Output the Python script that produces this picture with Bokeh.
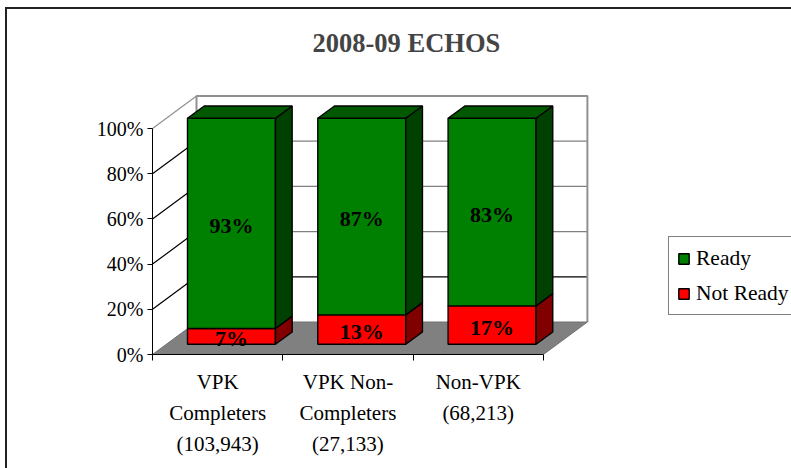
from bokeh.plotting import figure
from bokeh.models import Range1d, FixedTicker, Legend, LegendItem
from bokeh.core.properties import value
from bokeh.embed import file_html
from bokeh.resources import INLINE

# ---------------- data ----------------
categories = ["VPK\nCompleters\n(103,943)", "VPK Non-\nCompleters\n(27,133)", "Non-VPK\n(68,213)"]
ready = [93, 87, 83]
not_ready = [7, 13, 17]
series_names = ["Ready", "Not Ready"]
y_ticks = [0, 20, 40, 60, 80, 100]
y_tick_labels = ["0%", "20%", "40%", "60%", "80%", "100%"]
title_text = "2008-09 ECHOS"

# ---------------- layout / style ----------------
W, H = 791, 468
LEFT, TOP, BOTTOM = 152, 63, 114
PX_X = 130.3          # pixels per category
PX_Y = 2.26           # pixels per percent
DX = 44 / PX_X        # full depth offset (x, data units)
DY = 32.5 / PX_Y      # full depth offset (y, data units)
BAR_W = 0.675
D0 = 0.314            # bar front depth fraction
BD = 0.38             # bar depth fraction
FONT = "Liberation Serif"

n = len(categories)
x_end = (W - LEFT) / PX_X
y_end = (H - TOP - BOTTOM) / PX_Y

p = figure(width=W, height=H, output_backend="svg", toolbar_location=None,
           x_range=Range1d(0, x_end), y_range=Range1d(0, y_end),
           min_border_left=LEFT, min_border_top=TOP, min_border_bottom=BOTTOM,
           min_border_right=0, outline_line_color=None,
           border_fill_color=None, background_fill_color="white")
# outer chart border: top and left edges (right/bottom lie beyond the window)
p.styles = {
    "background-color": "white",
    "background-image": "linear-gradient(#222222, #222222), linear-gradient(#222222, #222222)",
    "background-position": "5px 7px, 5px 7px",
    "background-size": "2px 100%, 100% 2px",
    "background-repeat": "no-repeat, no-repeat",
}
p.xgrid.visible = False
p.ygrid.visible = False

# title
p.title.text = title_text
p.title.text_font = FONT
p.title.text_font_size = "26.5px"
p.title.text_font_style = "bold"
p.title.align = "left"
p.title.offset = 160
p.title.standoff = 12

# axes
xa = p.xaxis[0]
xa.ticker = FixedTicker(ticks=[i + 0.5 for i in range(n)], minor_ticks=list(range(n + 1)))
xa.major_label_overrides = {i + 0.5: c for i, c in enumerate(categories)}
xa.bounds = (0, n)
xa.major_tick_line_color = None
xa.minor_tick_out = 6
xa.minor_tick_in = 0
xa.minor_tick_line_color = "black"
xa.axis_line_color = "black"
xa.major_label_text_font = FONT
xa.major_label_text_font_size = "21px"
xa.major_label_text_color = "black"
xa.major_label_text_line_height = 1.3
xa.major_label_standoff = 9

ya = p.yaxis[0]
ya.ticker = FixedTicker(ticks=y_ticks, minor_ticks=[])
ya.major_label_overrides = {t: l for t, l in zip(y_ticks, y_tick_labels)}
ya.bounds = (0, 100)
ya.major_tick_out = 5
ya.major_tick_in = 0
ya.major_tick_line_color = "black"
ya.axis_line_color = "black"
ya.major_label_text_font = FONT
ya.major_label_text_font_size = "20px"
ya.major_label_text_color = "black"
ya.major_label_standoff = 4

# ---------------- walls & floor ----------------
for t in y_ticks[1:-1]:
    p.segment(x0=DX, y0=t + DY, x1=n + DX, y1=t + DY,
              line_color="black" if t == y_ticks[1] else "#808080", line_width=1.2)
p.line(x=[DX, DX, n + DX, n + DX], y=[DY, 100 + DY, 100 + DY, DY],
       line_color="#909090", line_width=2)
for t in y_ticks[1:]:
    p.segment(x0=0, y0=t, x1=DX, y1=t + DY,
              line_color="#909090" if t == y_ticks[-1] else "black", line_width=1.2)
p.patch(x=[0, n, n + DX, DX], y=[0, 0, DY, DY], fill_color="#808080",
        line_color="#707070", line_width=1)

# ---------------- bars ----------------
front_r = {}
for i in range(n):
    segs = [(0, not_ready[i], "#FF0000", "#800000", series_names[1]),
            (not_ready[i], not_ready[i] + ready[i], "#008000", "#004000", series_names[0])]
    xl = i + 0.5 - BAR_W / 2 + D0 * DX
    xr = xl + BAR_W
    for lo, hi, fc, sc, name in segs:
        yb = lo + D0 * DY
        yt = hi + D0 * DY
        r = p.quad(left=xl, right=xr, bottom=yb, top=yt, fill_color=fc,
                   line_color="black", line_width=1.4)
        front_r.setdefault(name, r)
        p.patch(x=[xr, xr + BD * DX, xr + BD * DX, xr],
                y=[yb, yb + BD * DY, yt + BD * DY, yt],
                fill_color=sc, line_color="black", line_width=1.4)
    top = not_ready[i] + ready[i] + D0 * DY
    p.patch(x=[xl, xr, xr + BD * DX, xl + BD * DX],
            y=[top, top, top + BD * DY, top + BD * DY],
            fill_color="#005800", line_color="black", line_width=1.4)

# data labels
for i in range(n):
    cx = i + 0.5 + D0 * DX
    p.text(x=[cx, cx],
           y=[not_ready[i] / 2 + D0 * DY, not_ready[i] + ready[i] / 2 + D0 * DY],
           text=[f"{not_ready[i]}%", f"{ready[i]}%"],
           text_font=value(FONT), text_font_size="22px", text_font_style="bold",
           text_align="center", text_baseline="middle", text_color="black", y_offset=2)

# ---------------- legend ----------------
legend = Legend(items=[LegendItem(label=series_names[0], renderers=[front_r[series_names[0]]]),
                       LegendItem(label=series_names[1], renderers=[front_r[series_names[1]]])],
                location=(516, 39), padding=8, spacing=9, label_height=26, label_width=110,
                glyph_width=13, glyph_height=13, label_standoff=6,
                label_text_font=FONT, label_text_font_size="21.5px", label_text_color="black",
                border_line_color="black", border_line_width=1.5, background_fill_alpha=1,
                margin=0)
p.add_layout(legend, "center")

open("out.html", "w").write(file_html(p, INLINE))
